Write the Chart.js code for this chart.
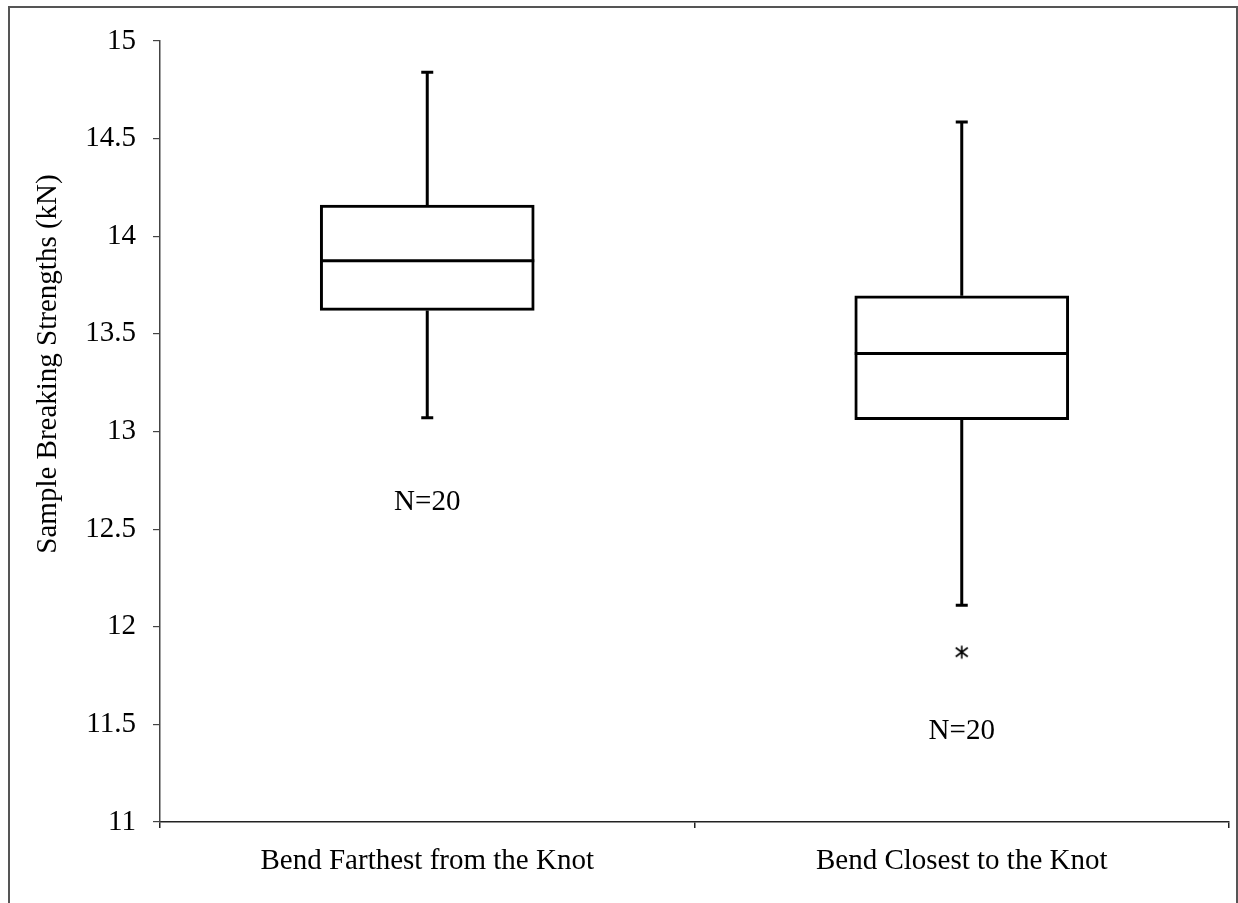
<!DOCTYPE html>
<html>
<head>
<meta charset="utf-8">
<script src="https://cdn.jsdelivr.net/npm/chart.js@4.4.1/dist/chart.umd.min.js"></script>
<style>
  html, body { margin: 0; padding: 0; background: #fff; }
  #wrap { width: 1238px; height: 903px; position: relative; }
</style>
</head>
<body>
<div id="wrap"><canvas id="box"></canvas></div>
<script>
const categories = ["Bend Farthest from the Knot", "Bend Closest to the Knot"];
const whiskerLow = [13.07, 12.11];
const q1 = [13.62, 13.06];
const median = [13.875, 13.40];
const q3 = [14.16, 13.695];
const whiskerHigh = [14.84, 14.585];
const outliers = [null, 11.87];
const nLabels = ["N=20", "N=20"];
const nLabelAt = [12.635, 11.465];

const font = "'Liberation Serif', 'Times New Roman', serif";

// asterisk marker for the outlier
const star = document.createElement("canvas");
star.width = 16;
star.height = 16;
(function () {
  const c = star.getContext("2d");
  c.strokeStyle = "#000";
  c.lineWidth = 1.6;
  c.beginPath();
  c.moveTo(8, 1.5); c.lineTo(8, 14.5);
  c.moveTo(2, 3.5); c.lineTo(14, 12.5);
  c.moveTo(14, 3.5); c.lineTo(2, 12.5);
  c.stroke();
})();

const boxExtras = {
  id: "boxExtras",
  beforeDraw(chart) {
    const ctx = chart.ctx;
    ctx.save();
    ctx.strokeStyle = "#555";
    ctx.lineWidth = 2;
    ctx.strokeRect(9, 7, 1228, 930);
    ctx.restore();
  },
  afterDatasetsDraw(chart) {
    const ctx = chart.ctx;
    const x = chart.scales.x;
    const y = chart.scales.y;
    const half = 107;
    ctx.save();
    ctx.strokeStyle = "#000";
    ctx.lineWidth = 3;
    ctx.lineCap = "butt";
    categories.forEach((c, i) => {
      const cx = x.getPixelForValue(i);
      ctx.beginPath();
      // whiskers
      ctx.moveTo(cx, y.getPixelForValue(q3[i]));
      ctx.lineTo(cx, y.getPixelForValue(whiskerHigh[i]));
      ctx.moveTo(cx, y.getPixelForValue(q1[i]));
      ctx.lineTo(cx, y.getPixelForValue(whiskerLow[i]));
      // caps
      ctx.moveTo(cx - 6, y.getPixelForValue(whiskerHigh[i]));
      ctx.lineTo(cx + 6, y.getPixelForValue(whiskerHigh[i]));
      ctx.moveTo(cx - 6, y.getPixelForValue(whiskerLow[i]));
      ctx.lineTo(cx + 6, y.getPixelForValue(whiskerLow[i]));
      // median
      ctx.moveTo(cx - half, y.getPixelForValue(median[i]));
      ctx.lineTo(cx + half, y.getPixelForValue(median[i]));
      ctx.stroke();

      ctx.fillStyle = "#000";
      ctx.font = "29px " + font;
      ctx.textAlign = "center";
      ctx.textBaseline = "middle";
      ctx.fillText(nLabels[i], cx, y.getPixelForValue(nLabelAt[i]));
    });

    // y axis title
    ctx.translate(48, 364);
    ctx.rotate(-Math.PI / 2);
    ctx.font = "29px " + font;
    ctx.textAlign = "center";
    ctx.textBaseline = "middle";
    ctx.fillText("Sample Breaking Strengths (kN)", 0, 0);
    ctx.restore();
  }
};

new Chart(document.getElementById("box"), {
  type: "bar",
  data: {
    labels: categories,
    datasets: [
      {
        label: "box",
        data: q1.map((v, i) => [v, q3[i]]),
        backgroundColor: "#fff",
        borderColor: "#000",
        borderWidth: 3,
        borderSkipped: false,
        barThickness: 214,
        order: 2,
      },
      {
        type: "line",
        label: "outlier",
        data: outliers,
        showLine: false,
        pointStyle: star,
        pointRadius: 8,
        order: 1,
      },
    ],
  },
  options: {
    responsive: true,
    maintainAspectRatio: false,
    animation: false,
    layout: { padding: { top: 41, right: 9, left: 0, bottom: 0 } },
    plugins: {
      legend: { display: false },
      tooltip: { enabled: false },
    },
    scales: {
      x: {
        offset: true,
        grid: {
          offset: true,
          drawOnChartArea: false,
          drawTicks: true,
          tickLength: 6,
          color: "#222",
          lineWidth: 1.5,
        },
        border: { display: true, color: "#222", width: 1.5 },
        ticks: {
          color: "#000",
          padding: 16,
          font: { family: font, size: 29 },
        },
        afterFit(s) { s.height = 81; },
      },
      y: {
        min: 11,
        max: 15,
        grid: {
          drawOnChartArea: false,
          drawTicks: true,
          tickLength: 7,
          color: "#444",
          lineWidth: 1.2,
        },
        border: { display: true, color: "#444", width: 1.5 },
        ticks: {
          stepSize: 0.5,
          color: "#000",
          padding: 17,
          font: { family: font, size: 29 },
          callback: (v) => String(v),
        },
        afterFit(s) { s.width = 160; },
      },
    },
  },
  plugins: [boxExtras],
});
</script>
</body>
</html>
